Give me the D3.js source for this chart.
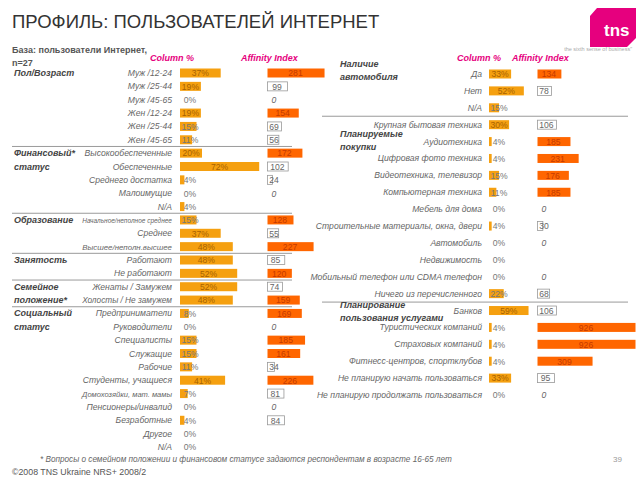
<!DOCTYPE html>
<html><head><meta charset="utf-8">
<script src="https://cdn.jsdelivr.net/npm/d3@7"></script>
<style>body{margin:0;background:#fff} svg{font-family:"Liberation Sans",Arial,sans-serif}</style>
</head><body><svg id="c" width="640" height="480"></svg>
<script>
// ---------- DATA ----------
const leftLabels = ["Муж /12-24","Муж /25-44","Муж /45-65","Жен /12-24","Жен /25-44","Жен /45-65",
  "Высокообеспеченные","Обеспеченные","Среднего достатка","Малоимущие","N/A",
  "Начальное/неполное среднее","Среднее","Высшее/неполн.высшее",
  "Работают","Не работают",
  "Женаты / Замужем","Холосты / Не замужем",
  "Предприниматели","Руководители","Специалисты","Служащие","Рабочие","Студенты, учащиеся",
  "Домохозяйки, мат. мамы","Пенсионеры/инвалид","Безработные","Другое","N/A"];
const leftColumn = [37,19,0,19,15,11, 20,72,4,0,4, 15,37,48, 48,52, 52,48, 8,0,15,15,11,41,7,0,4,0,0];
const leftAffinity = [281,99,0,154,69,56, 172,102,24,0,null, 128,55,227, 85,120, 74,159, 169,0,185,161,34,226,81,0,84,null,null];
const leftGroups = [
  {lines:["Пол/Возраст"], start:0, end:5},
  {lines:["Финансовый*","статус"], start:6, end:10},
  {lines:["Образование"], start:11, end:13},
  {lines:["Занятость"], start:14, end:15},
  {lines:["Семейное","положение*"], start:16, end:17},
  {lines:["Социальный","статус"], start:18, end:28}];

const rightLabels = ["Да","Нет","N/A",
  "Крупная бытовая техника","Аудиотехника","Цифровая фото техника","Видеотехника, телевизор",
  "Компьютерная техника","Мебель для дома","Строительные материалы, окна, двери","Автомобиль",
  "Недвижимость","Мобильный телефон или CDMA телефон","Ничего из перечисленного",
  "Банков","Туристических компаний","Страховых компаний","Фитнесс-центров, спортклубов",
  "Не планирую начать пользоваться","Не планирую продолжать пользоваться"];
const rightColumn = [33,52,15, 30,4,4,15,11,0,4,0,0,0,22, 59,4,4,4,33,0];
const rightAffinity = [134,78,null, 106,185,231,176,185,0,30,0,null,0,68, 106,926,926,309,95,0];
const rightGroups = [
  {lines:["Наличие","автомобиля"], start:0, end:2},
  {lines:["Планируемые","покупки"], start:3, end:13},
  {lines:["Планирование","пользования услугами"], start:14, end:19}];

const headers = ["Column %","Affinity Index"];
const titleText = "ПРОФИЛЬ: ПОЛЬЗОВАТЕЛЕЙ ИНТЕРНЕТ";
const baseText = ["База: пользователи Интернет,","n=27"];
const footnote = "* Вопросы о семейном положении и финансовом статусе задаются респондентам в возрасте 16-65 лет";
const copyright = "©2008 TNS Ukraine  NRS+ 2008/2";
const pageNo = "39";

// ---------- DRAW ----------
const svg = d3.select("#c");
const COL = "#F5A010", AFF = "#FF6600", MAG = "#E6007E";

svg.append("text").attr("x",12).attr("y",28).attr("font-size",18.5).attr("fill","#333").text(titleText);

// logo
const logo = svg.append("g");
logo.append("path").attr("d","M597,8 L636,8 L636,38 L627,47 L590,47 L590,16 Z").attr("fill",MAG);
logo.append("text").attr("x",604).attr("y",36).attr("font-size",17).attr("font-weight","bold").attr("fill","#fff").text("tns");
logo.append("text").attr("x",632).attr("y",51).attr("text-anchor","end").attr("font-size",5.5).attr("fill","#aaa").text("the sixth sense of business\u201D");

baseText.forEach((t,i)=>svg.append("text").attr("x",12).attr("y",53+i*12.5).attr("font-size",9).attr("font-weight","bold").attr("fill","#555").text(t));

function panel(o){
  const g = svg.append("g");
  const n = o.labels.length;
  const y = d3.scalePoint().domain(d3.range(n)).range(o.yr);
  g.append("text").attr("x",o.hx[0]).attr("y",61).attr("font-size",9).attr("font-weight","bold").attr("font-style","italic").attr("fill",MAG).text(headers[0]);
  g.append("text").attr("x",o.hx[1]).attr("y",61).attr("font-size",9).attr("font-weight","bold").attr("font-style","italic").attr("fill",MAG).text(headers[1]);
  o.groups.slice(1).forEach(gr=>{
    const yy = (y(gr.start)+y(gr.start-1))/2;
    g.append("line").attr("x1",o.lx[0]).attr("x2",o.lx[1]).attr("y1",yy).attr("y2",yy).attr("stroke","#9a9a9a").attr("stroke-width",1);
  });
  o.groups.forEach((gr,gi)=>{
    gr.lines.forEach((t,i)=>{
      const yy = o.groupY ? o.groupY[gi]+i*12.5 : y(gr.start+i)+3;
      g.append("text").attr("x",o.gx).attr("y",yy).attr("font-size",9).attr("font-weight","bold").attr("font-style","italic").attr("fill","#444").text(t);
    });
  });
  g.selectAll(".rl").data(o.labels).join("text").attr("x",o.labelX).attr("y",(d,i)=>y(i)+3)
    .attr("text-anchor","end").attr("font-size",8.6).attr("font-style","italic").attr("fill","#666").text(d=>d)
    .each(function(){ const L=this.getComputedTextLength(); if(L>o.maxW){ d3.select(this).attr("font-size",8.6*o.maxW/L); } });
  const cx = o.colX, x0 = cx(0);
  g.selectAll(".cb").data(o.col).join("rect").attr("x",x0).attr("y",(d,i)=>y(i)-4.5)
    .attr("width",d=>cx(d)-x0).attr("height",9).attr("fill",COL);
  g.selectAll(".ct").data(o.col).join("text")
    .attr("x",d=>Math.max(x0+(cx(d)-x0)/2, x0+10)).attr("y",(d,i)=>y(i)+3.3)
    .attr("text-anchor","middle").attr("font-size",8.6).attr("fill",d=>(cx(d)-x0)>18?"#a86200":"#777").text(d=>d+"%");
  const ax = o.affX, a0 = ax(0);
  const aff = o.aff.map((v,i)=>({v,i})).filter(d=>d.v!==null);
  g.selectAll(".ab").data(aff.filter(d=>d.v>0)).join("rect").attr("x",a0+0.5).attr("y",d=>y(d.i)-4.5)
    .attr("width",d=>ax(d.v)-a0).attr("height",9)
    .attr("fill",d=>d.v>110?AFF:"#fff").attr("stroke",d=>d.v>110?"none":"#999").attr("stroke-width",0.8);
  g.selectAll(".at").data(aff).join("text")
    .attr("x",d=>Math.max(a0+(ax(d.v)-a0)/2, a0+7)).attr("y",d=>y(d.i)+3.3)
    .attr("text-anchor","middle").attr("font-size",8.6)
    .attr("font-style",d=>d.v===0?"italic":"normal")
    .attr("fill",d=>d.v>110?"#c43a00":"#666").text(d=>d.v);
}

panel({labels:leftLabels,col:leftColumn,aff:leftAffinity,groups:leftGroups,yr:[73,447],
  hx:[150,241],lx:[12,292],gx:14,labelX:172,maxW:90,
  colX:d3.scaleLinear().domain([0,100]).range([180,290]),
  affX:d3.scaleLinear().domain([0,100]).range([267,287.3])});

panel({labels:rightLabels,col:rightColumn,aff:rightAffinity,groups:rightGroups,yr:[74,395],
  hx:[457,512],lx:[322,628],gx:340,labelX:482,groupY:[67,137,308],maxW:175,
  colX:d3.scaleLinear().domain([0,100]).range([489,556]),
  affX:d3.scaleLinear().domain([0,550]).range([537,635]).clamp(true)});

svg.append("text").attr("x",40).attr("y",462).attr("font-size",8.2).attr("font-style","italic").attr("fill","#666").text(footnote);
svg.append("text").attr("x",12).attr("y",475).attr("font-size",8.8).attr("fill","#555").text(copyright);
svg.append("text").attr("x",613).attr("y",462).attr("font-size",8).attr("fill","#999").text(pageNo);
</script></body></html>
